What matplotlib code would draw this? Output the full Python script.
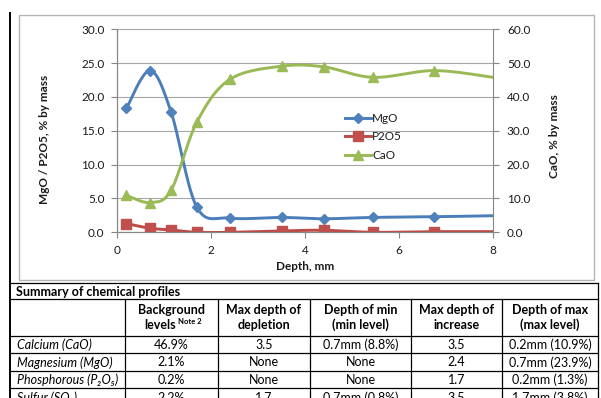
import numpy as np
import matplotlib
matplotlib.use("Agg")
import matplotlib.pyplot as plt
from matplotlib.lines import Line2D
from matplotlib.patches import Rectangle

plt.rcParams['font.family'] = ['Lato', 'DejaVu Sans']

# profile data, depth in mm
depth = [0.2, 0.7, 1.15, 1.7, 2.4, 3.5, 4.4, 5.45, 6.75, 8.0]
mgo = [18.3, 23.9, 17.8, 3.7, 2.1, 2.2, 2.0, 2.2, 2.3, 2.45]
p2o5 = [1.3, 0.6, 0.35, 0.0, 0.0, 0.2, 0.3, 0.0, 0.1, 0.1]
cao = [10.9, 8.8, 12.4, 32.6, 45.2, 49.1, 48.9, 45.8, 47.8, 45.8]

left_ticks = [0, 5, 10, 15, 20, 25, 30]
right_ticks = [0, 10, 20, 30, 40, 50, 60]
x_ticks = [0, 2, 4, 6, 8]

# summary table
table_title = "Summary of chemical profiles"
col_heads = [("Background", "levels"), ("Max depth of", "depletion"),
             ("Depth of min", "(min level)"), ("Max depth of", "increase"),
             ("Depth of max", "(max level)")]
row_names = ["Calcium (CaO)", "Magnesium (MgO)", "Phosphorous (P\u2082O\u2085)", "Sulfur (SO\u2083)"]
background = ["46.9%", "2.1%", "0.2%", "2.2%"]
max_depletion = ["3.5", "None", "None", "1.7"]
depth_min = ["0.7mm (8.8%)", "None", "None", "0.7mm (0.8%)"]
max_increase = ["3.5", "2.4", "1.7", "3.5"]
depth_max = ["0.2mm (10.9%)", "0.7mm (23.9%)", "0.2mm (1.3%)", "1.7mm (3.8%)"]


def smooth(xs, ys, n=40):
    # bezier smoothing through every point, excel style
    x = np.asarray(xs, float)
    y = np.asarray(ys, float)
    px = np.concatenate([[x[0]], x, [x[-1]]])
    py = np.concatenate([[y[0]], y, [y[-1]]])
    t = np.linspace(0, 1, n)[:, None]
    out = []
    for i in range(len(x) - 1):
        p0 = np.array([px[i], py[i]])
        p1 = np.array([px[i + 1], py[i + 1]])
        p2 = np.array([px[i + 2], py[i + 2]])
        p3 = np.array([px[i + 3], py[i + 3]])
        c1 = p1 + (p2 - p0) / 6
        c2 = p2 - (p3 - p1) / 6
        seg = ((1 - t) ** 3) * p1 + 3 * ((1 - t) ** 2) * t * c1 + 3 * (1 - t) * t ** 2 * c2 + t ** 3 * p2
        out.append(seg)
    out = np.vstack(out)
    return out[:, 0], out[:, 1]


W, H = 601, 398
fig = plt.figure(figsize=(W / 100, H / 100), dpi=100)

# page layer in pixel coordinates
page = fig.add_axes([0, 0, 1, 1])
page.set_xlim(0, W)
page.set_ylim(H, 0)
page.axis("off")

gray = "#868686"
txt = "#1a1a1a"
page.add_patch(Rectangle((19, 15), 575, 265, fill=False, ec="#b4b4b4", lw=1.0))
page.plot([10, 10], [13, H], color="black", lw=1.4)

ax = fig.add_axes([117 / W, (H - 232.3) / H, 376 / W, 203 / H])
ax2 = ax.twinx()

blue, red, green = "#4A7EBB", "#BE4B48", "#98B954"
n_pts = len(depth) - 1
sx, sy = smooth(depth, mgo)
ax.plot(sx, sy, color=blue, lw=2.1, zorder=3)
ax.plot(depth[:n_pts], mgo[:n_pts], ls="none", marker="D", ms=5.5, color="#4F81BD", zorder=4)
sx, sy = smooth(depth, p2o5)
ax.plot(sx, sy, color=red, lw=2.1, zorder=3)
ax.plot(depth[:n_pts], p2o5[:n_pts], ls="none", marker="s", ms=6.5, color="#C0504D", zorder=4)
sx, sy = smooth(depth, cao)
ax2.plot(sx, sy, color=green, lw=2.1, zorder=3)
ax2.plot(depth[:n_pts], cao[:n_pts], ls="none", marker="^", ms=7.5, color="#9BBB59", zorder=4)

ax.set_xlim(0, 8)
ax.set_ylim(0, 30)
ax2.set_ylim(0, 60)
ax.set_xticks(x_ticks)
ax.set_yticks(left_ticks)
ax.set_yticklabels([f"{v:.1f}" for v in left_ticks])
ax2.set_yticks(right_ticks)
ax2.set_yticklabels([f"{v:.1f}" for v in right_ticks])
ax.grid(axis="y", color="#a6a6a6", lw=0.8)
ax.set_axisbelow(True)

for a in (ax, ax2):
    a.patch.set_visible(False)
    a.spines["top"].set_visible(False)
    for s in ("left", "right", "bottom"):
        a.spines[s].set_color(gray)
        a.spines[s].set_linewidth(0.8)
    a.tick_params(colors=gray, length=4, width=0.8, labelcolor=txt, labelsize=8.5)
ax.spines["right"].set_visible(False)
ax.tick_params(axis="y", pad=5)
ax.tick_params(axis="x", pad=5)
ax2.tick_params(axis="y", pad=6)

fig.text(45 / W, 1 - 139 / H, "MgO / P2O5, % by mass", rotation=90, ha="center", va="center",
         fontsize=8.5, fontweight="bold", color=txt)
fig.text(555 / W, 1 - 136 / H, "CaO, % by mass", rotation=90, ha="center", va="center",
         fontsize=8.5, fontweight="bold", color=txt)
fig.text(305 / W, 1 - 267 / H, "Depth, mm", ha="center", va="center",
         fontsize=8.5, fontweight="bold", color=txt)

handles = [Line2D([], [], color=blue, lw=2.1, marker="D", ms=5.5, mfc="#4F81BD", mec="#4F81BD"),
           Line2D([], [], color=red, lw=2.1, marker="s", ms=6.5, mfc="#C0504D", mec="#C0504D"),
           Line2D([], [], color=green, lw=2.1, marker="^", ms=7.5, mfc="#9BBB59", mec="#9BBB59")]
fig.legend(handles, ["MgO", "P2O5", "CaO"], loc="upper left", bbox_to_anchor=(345 / W, 1 - 113 / H),
           frameon=False, fontsize=8.5, handlelength=2.2, handletextpad=0.1, labelspacing=0.62,
           borderpad=0, borderaxespad=0, labelcolor=txt)

# summary table
cols = [10, 125, 218, 310, 411, 502, 598]
rows = [283, 299, 336, 353, 371, 388, 406]
lw = 0.9
for y in rows[:-1]:
    page.plot([10, 598], [y, y], color="black", lw=lw, clip_on=False)
for x in cols[1:]:
    top = rows[0] if x == cols[-1] else rows[1]
    page.plot([x, x], [top, H], color="black", lw=lw)

fs = 9
page.text(16, (rows[0] + rows[1]) / 2 + 0.5, table_title, ha="left", va="center", fontsize=fs, fontweight="bold")
for i, (l1, l2) in enumerate(col_heads):
    cx = (cols[i + 1] + cols[i + 2]) / 2
    page.text(cx, 310, l1, ha="center", va="center", fontsize=fs, fontweight="bold")
    if i == 0:
        page.text(cx + 4, 325, l2, ha="right", va="center", fontsize=fs, fontweight="bold")
        page.text(cx + 6, 321, "Note 2", ha="left", va="center", fontsize=5.5, fontweight="bold")
    else:
        page.text(cx, 325, l2, ha="center", va="center", fontsize=fs, fontweight="bold")

columns = [background, max_depletion, depth_min, max_increase, depth_max]
for r, name in enumerate(row_names):
    cy = (rows[r + 2] + rows[r + 3]) / 2 + 0.5
    page.text(17, cy, name, ha="left", va="center", fontsize=fs, style="italic")
    for c, vals in enumerate(columns):
        cx = (cols[c + 1] + cols[c + 2]) / 2
        page.text(cx, cy, vals[r], ha="center", va="center", fontsize=fs)

fig.savefig("out.png", dpi=100)
